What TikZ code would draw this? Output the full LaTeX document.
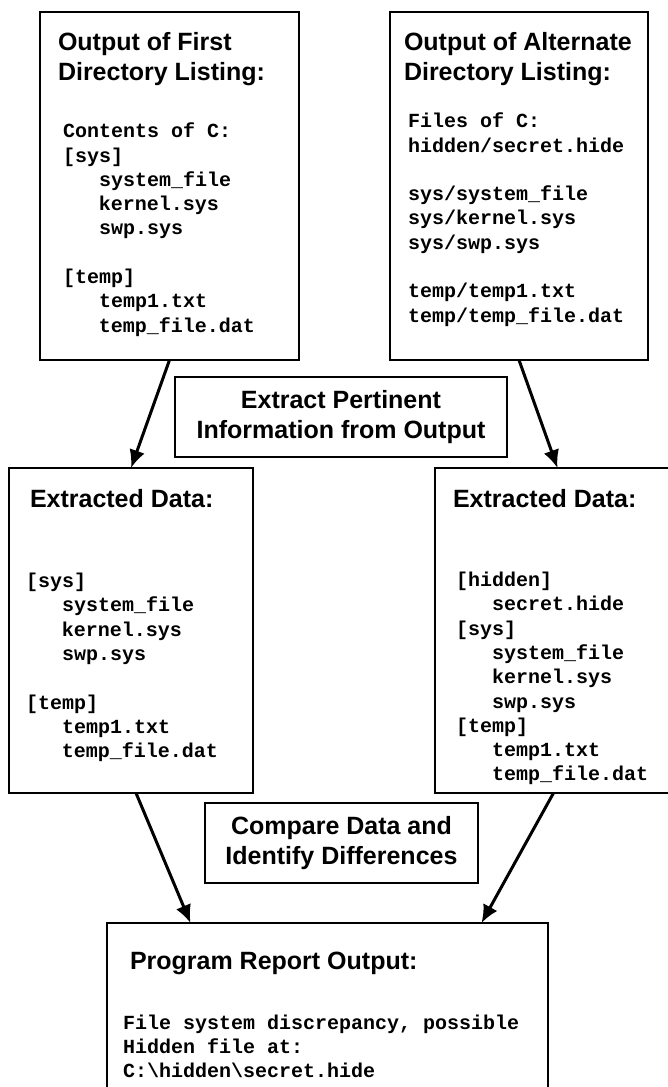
\documentclass[tikz,border=0pt]{standalone}
\usepackage{fontspec}
\setmainfont{Liberation Sans}
\newfontfamily\listingfont{Liberation Mono}
\usetikzlibrary{arrows.meta}

\newcommand{\dirindent}{\hspace*{36pt}}

\tikzset{
		flow/.style={
			x=1pt, y=-1pt,
			every node/.style={inner sep=0pt, outer sep=0pt}
		},
		panel/.style 2 args={draw, line width=1.4pt, minimum width=#1, minimum height=#2},
		stepbox/.style 2 args={panel={#1}{#2}, align=center, font=\fontsize{25}{30}\selectfont\bfseries},
		heading/.style={align=left, font=\fontsize{25}{30}\selectfont\bfseries},
		listing/.style={align=left, font=\listingfont\bfseries\fontsize{20}{24.3}\selectfont},
		link/.style={-{Latex[length=18pt,width=16pt]}, line width=3pt}
	}

\begin{document}
\begin{tikzpicture}[flow]
				\clip (0,0) rectangle (668,1087);
				\useasboundingbox (0,0) rectangle (668,1087);

				\node[panel={259pt}{348pt}] (first) at (169.5,186) {};
				\node[heading, anchor=north west] (firsttitle) at (58,32) {Output of First\\Directory Listing:};
				\node[listing, anchor=north west] (firstlist) at (63,123) {Contents of C:\\
					{[sys]}\\
					\dirindent system\_file\\
					\dirindent kernel.sys\\
					\dirindent swp.sys\\[24.3pt]
					{[temp]}\\
					\dirindent temp1.txt\\
					\dirindent temp\_file.dat};

				\node[panel={258pt}{348pt}] (alternate) at (519,186) {};
				\node[heading, anchor=north west] (alttitle) at (404,32) {Output of Alternate\\Directory Listing:};
				\node[listing, anchor=north west] (altlist) at (408,113) {Files of C:\\
					hidden/secret.hide\\[24.3pt]
					sys/system\_file\\
					sys/kernel.sys\\
					sys/swp.sys\\[24.3pt]
					temp/temp1.txt\\
					temp/temp\_file.dat};

				\node[stepbox={332pt}{80pt}] (extract) at (341,417) {Extract Pertinent\\Information from Output};

				\node[panel={244pt}{325pt}] (leftdata) at (131,630.5) {};
				\node[heading, anchor=base west] (lefttitle) at (30,507) {Extracted Data:};
				\node[listing, anchor=north west] (leftlist) at (26,573) {{[sys]}\\
					\dirindent system\_file\\
					\dirindent kernel.sys\\
					\dirindent swp.sys\\[24.3pt]
					{[temp]}\\
					\dirindent temp1.txt\\
					\dirindent temp\_file.dat};

				\node[panel={245pt}{325pt}] (rightdata) at (557.5,630.5) {};
				\node[heading, anchor=base west] (righttitle) at (453,507) {Extracted Data:};
				\node[listing, anchor=north west] (rightlist) at (456,572) {{[hidden]}\\
					\dirindent secret.hide\\
					{[sys]}\\
					\dirindent system\_file\\
					\dirindent kernel.sys\\
					\dirindent swp.sys\\
					{[temp]}\\
					\dirindent temp1.txt\\
					\dirindent temp\_file.dat};

				\node[stepbox={273pt}{80pt}] (compare) at (341.5,843) {Compare Data and\\Identify Differences};

				\node[panel={441pt}{187pt}] (report) at (327.5,1016.5) {};
				\node[heading, anchor=base west] (reporttitle) at (130,969) {Program Report Output:};
				\node[listing, anchor=north west] (reportlist) at (123,1014.5) {File system discrepancy, possible\\
					Hidden file at:\\
					C:\textbackslash hidden\textbackslash secret.hide};

				\draw[link] (first.south) -- (leftdata.north);
				\draw[link] (alternate.south) -- (rightdata.north);
				\draw[link] ([xshift=5pt]leftdata.south) -- ([xshift=-137pt]report.north);
				\draw[link] ([xshift=-4pt]rightdata.south) -- ([xshift=154pt]report.north);
			\end{tikzpicture}
\end{document}
